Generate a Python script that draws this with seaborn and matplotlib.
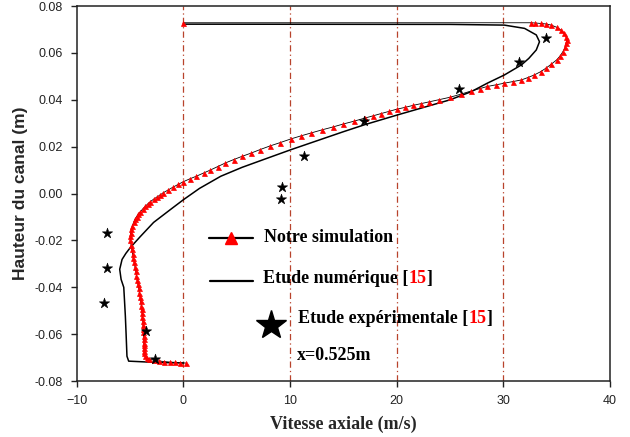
import matplotlib
matplotlib.use("Agg")
from matplotlib import pyplot as plt
import seaborn as sns
import pandas as pd

# Notre simulation: vitesse axiale (m/s) / hauteur (m), paroi basse -> paroi haute
sim_u = [0.2, -0.3, -0.8, -1.3, -1.8, -2.3, -2.8, -3.2, -3.45, -3.6, -3.67,
         -3.69, -3.70, -3.71, -3.72, -3.73, -3.74, -3.75, -3.77, -3.79, -3.82,
         -3.85, -3.88, -3.92, -3.96, -4.01, -4.07, -4.13, -4.20, -4.27, -4.34,
         -4.41, -4.48, -4.55, -4.62, -4.70, -4.78, -4.85, -4.92, -4.97, -4.98,
         -4.95, -4.88, -4.79, -4.68, -4.55, -4.40, -4.23, -4.04, -3.83, -3.60,
         -3.35, -3.10, -2.80, -2.50, -2.2, -1.88, -1.45, -1.0, -0.5, 0.0,
         0.6, 1.2, 1.9, 2.5, 3.2, 3.9, 4.7, 5.5, 6.3, 7.2,
         8.1, 9.1, 10.06, 11.0, 12.0, 13.0, 14.0, 15.0, 16.0, 17.0,
         17.8, 18.5, 19.3, 20.0, 20.8, 21.5, 22.3, 23.0, 24.0, 25.0,
         26.0, 27.0, 27.8, 28.5, 29.3, 30.1, 30.9, 31.7, 32.3, 32.9,
         33.5, 34.0, 34.5, 35.0, 35.35, 35.6, 35.8, 35.9, 35.95, 35.9,
         35.7, 35.4, 35.0, 34.5, 34.0, 33.5, 33.0, 32.6, 0.0]
sim_y = [-0.0723, -0.0722, -0.0720, -0.0719, -0.0717, -0.0714, -0.0711, -0.0706, -0.0700, -0.0692, -0.0682,
         -0.0672, -0.0660, -0.0648, -0.0636, -0.0622, -0.0608, -0.0592, -0.0576, -0.0560, -0.0543,
         -0.0526, -0.0510, -0.0494, -0.0478, -0.0460, -0.0442, -0.0424, -0.0405, -0.0387, -0.0368,
         -0.0350, -0.0331, -0.0312, -0.0294, -0.0275, -0.0256, -0.0237, -0.0218, -0.0199, -0.0183,
         -0.0167, -0.0152, -0.0137, -0.0123, -0.0110, -0.0098, -0.0087, -0.0077, -0.0066, -0.0055,
         -0.0044, -0.0034, -0.0024, -0.0015, -0.0006, 0.0004, 0.0015, 0.0027, 0.0039, 0.0051,
         0.0063, 0.0074, 0.0088, 0.0100, 0.0115, 0.0130, 0.0145, 0.0159, 0.0172, 0.0188,
         0.0203, 0.0218, 0.0233, 0.0246, 0.0259, 0.0272, 0.0284, 0.0297, 0.0309, 0.0322,
         0.0332, 0.0341, 0.0351, 0.0360, 0.0368, 0.0376, 0.0384, 0.0391, 0.0401, 0.0411,
         0.0424, 0.0438, 0.0448, 0.0457, 0.0464, 0.0471, 0.0478, 0.0485, 0.0495, 0.0506,
         0.0520, 0.0535, 0.0552, 0.0570, 0.0588, 0.0606, 0.0624, 0.0641, 0.0655, 0.0669,
         0.0684, 0.0698, 0.0710, 0.0719, 0.0724, 0.0726, 0.0728, 0.0729, 0.0729]

# Etude numerique [15]
num_u = [0.0, -2.8, -5.14, -5.3, -5.38, -5.45, -5.55, -5.6, -5.85, -5.98,
         -5.76, -5.4, -4.98, -4.04, -2.8, -1.22, 0.0, 1.5, 3.5, 5.5,
         7.5, 10.06, 15.0, 17.0, 20.1, 25.0, 27.0, 28.5, 30.1, 31.7,
         32.4, 33.1, 33.4, 33.1, 32.0, 30.1, 25.0, 0.0]
num_y = [-0.0723, -0.0720, -0.0715, -0.0694, -0.0600, -0.0523, -0.0440, -0.0400, -0.0366, -0.0323,
         -0.0281, -0.0255, -0.0230, -0.0183, -0.0123, -0.0068, -0.0026, 0.0022, 0.0074, 0.0112,
         0.0145, 0.0187, 0.0264, 0.0294, 0.0336, 0.0400, 0.0435, 0.0471, 0.0506, 0.0549,
         0.0577, 0.0613, 0.0648, 0.0677, 0.0705, 0.0719, 0.0722, 0.0723]

# Etude experimentale [15]
exp_u = [-7.17, -7.17, -7.49, -3.48, -2.63, 9.27, 9.18, 11.31, 16.95, 25.87, 31.5, 34.0]
exp_y = [-0.0170, -0.0319, -0.0468, -0.0586, -0.0706, 0.0029, -0.0023, 0.0159, 0.0308, 0.0446, 0.0563, 0.0665]

grid_u = [0, 10, 20, 30]
x_ticks = [-10, 0, 10, 20, 30, 40]
y_ticks = [-0.08, -0.06, -0.04, -0.02, 0.00, 0.02, 0.04, 0.06, 0.08]

sns.set_style("ticks")
plt.rcParams["font.family"] = ["Liberation Sans", "DejaVu Sans"]

fig, ax = plt.subplots(figsize=(6.3, 4.37), dpi=100)
fig.subplots_adjust(left=0.122, right=0.968, bottom=0.128, top=0.986)

for u in grid_u:
    ax.axvline(u, color="#b8432c", lw=0.9, ls=(0, (5, 2.5, 1, 2.5)), zorder=0)

sim = pd.DataFrame({"u": sim_u, "y": sim_y})
num = pd.DataFrame({"u": num_u, "y": num_y})
exp = pd.DataFrame({"u": exp_u, "y": exp_y})

sns.lineplot(data=num, x="u", y="y", sort=False, estimator=None, color="black", lw=1.1, ax=ax)
sns.lineplot(data=sim, x="u", y="y", sort=False, estimator=None, color="black", lw=0.6,
             marker="^", markersize=3.6, markerfacecolor="red", markeredgecolor="red",
             markeredgewidth=0.5, ax=ax)
sns.scatterplot(data=exp, x="u", y="y", marker="*", s=60, color="black", edgecolor="black",
                linewidth=0.4, ax=ax, zorder=5)

ax.set_xlim(-10, 40)
ax.set_ylim(-0.08, 0.08)
ax.set_xticks(x_ticks)
ax.set_yticks(y_ticks)
ax.set_yticklabels([f"{v:.2f}" for v in y_ticks])
ax.tick_params(direction="out", length=4, width=1, pad=6, labelsize=9,
               labelcolor="#222222", color="#222222")
for sp in ax.spines.values():
    sp.set_linewidth(1.1)
    sp.set_color("#222222")

ax.set_xlabel("Vitesse axiale (m/s)", family="Liberation Serif", weight="bold", size=13, labelpad=6)
ax.set_ylabel("Hauteur du canal (m)", family="Liberation Sans", weight="bold", size=12.5, labelpad=5)

# legende dessinee a la main (comme dans la figure d'origine)
tf = ax.transAxes
lab = dict(family="Liberation Serif", weight="bold", size=13)


def rich(x, y, parts):
    t = ax.text(x, y, parts[0][0], color=parts[0][1], transform=tf, va="baseline", **lab)
    for s, c in parts[1:]:
        t = ax.annotate(s, xy=(1, 0), xycoords=t, va="bottom", ha="left", color=c, **lab)


ax.plot([0.248, 0.330], [0.381, 0.381], transform=tf, color="black", lw=1.6)
ax.plot([0.289], [0.381], transform=tf, marker="^", ms=9, color="red", ls="none")
rich(0.351, 0.3715, [("Notre simulation", "black")])

ax.plot([0.250, 0.330], [0.267, 0.267], transform=tf, color="black", lw=1.6)
rich(0.3495, 0.2605, [("Etude numérique [", "black"), ("15", "red"), ("]", "black")])

ax.plot([0.365], [0.149], transform=tf, marker="*", ms=22, color="black", ls="none")
rich(0.415, 0.154, [("Etude expérimentale [", "black"), ("15", "red"), ("]", "black")])
rich(0.412, 0.056, [("x=0.525m", "black")])

plt.savefig("out.png", dpi=100)
